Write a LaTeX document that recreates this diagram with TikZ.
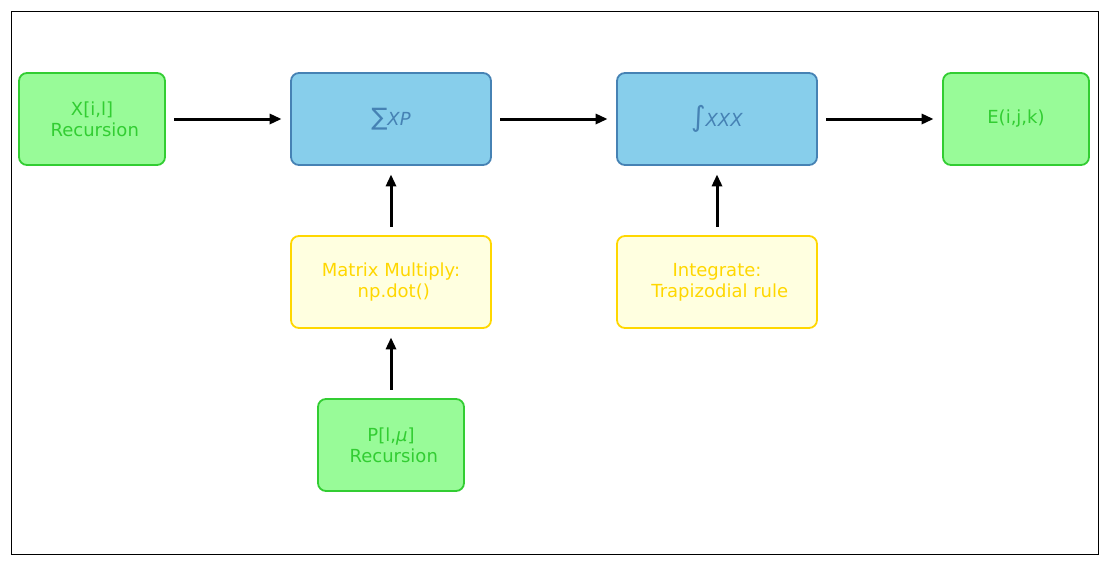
\documentclass[tikz,border=0pt]{standalone}
\usepackage{fontspec}
\setmainfont{DejaVu Sans}
\usetikzlibrary{arrows.meta}
\definecolor{palegreen}{HTML}{98FB98}
\definecolor{limegreen}{HTML}{32CD32}
\definecolor{skyblue}{HTML}{87CEEB}
\definecolor{steelblue}{HTML}{4682B4}
\definecolor{lightyellow}{HTML}{FFFFE0}
\definecolor{gold}{HTML}{FFD700}
\newcommand{\bigop}[2]{{\fontsize{#1}{#1}\selectfont #2}}
\newcommand{\lead}{\hspace*{5.5pt}}
\begin{document}
\begin{tikzpicture}[x=1pt,y=-1pt,
    box/.style={rounded corners=8pt,line width=1.8pt,minimum height=92pt,align=center,font=\fontsize{18}{21}\selectfont},
    grn/.style={box,fill=palegreen,draw=limegreen,text=limegreen,minimum width=146pt},
    blu/.style={box,fill=skyblue,draw=steelblue,text=steelblue,minimum width=200pt},
    ylw/.style={box,fill=lightyellow,draw=gold,text=gold,minimum width=200pt},
    flow/.style={-{Triangle[length=12pt,width=10pt]},line width=3pt,shorten >=8.5pt,shorten <=8.5pt}]
    \useasboundingbox (0,0) rectangle (1108,565);
    \draw[line width=0.8pt] (11,11) rectangle (1098,554);
    \node[grn] (xrec) at (92,119) {X[i,l]\\ \lead Recursion};
    \node[blu] (sumxp) at (391,119) {\bigop{24}{∑}\textit{XP}};
    \node[blu] (intxxx) at (717,119) {\bigop{28}{∫}\textit{XXX}};
    \node[grn] (energy) at (1016,119) {E(i,j,k)};
    \node[ylw] (matmul) at (391,282) {Matrix Multiply:\\ \lead np.dot()};
    \node[ylw] (trapz) at (717,282) {Integrate:\\ \lead Trapizodial rule};
    \node[grn] (prec) at (391,445) {P[l,\textit{μ}]\\ \lead Recursion};
    \foreach \a/\b in {xrec/sumxp,sumxp/intxxx,intxxx/energy,matmul/sumxp,prec/matmul,trapz/intxxx}
    {
    \draw[flow] (\a) -- (\b);
    }
\end{tikzpicture}
\end{document}
